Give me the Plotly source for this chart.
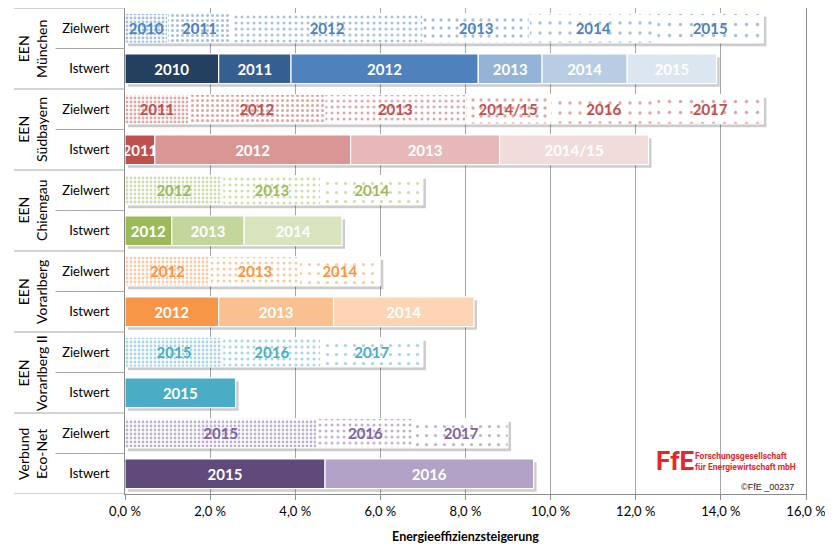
import numpy as np
import plotly.graph_objects as go

# ---------------- data ----------------
group_labels = ["EEN<br>München", "EEN<br>Südbayern", "EEN<br>Chiemgau",
                "EEN<br>Vorarlberg", "EEN<br>Vorarlberg II", "Verbund<br>Eco-Net"]
row_kinds = ["Zielwert", "Istwert"]

muenchen_ziel_years = ["2010", "2011", "2012", "2013", "2014", "2015"]
muenchen_ziel_values = [1.0, 1.5, 4.5, 2.5, 3.0, 2.5]
muenchen_ist_years = ["2010", "2011", "2012", "2013", "2014", "2015"]
muenchen_ist_values = [2.2, 1.7, 4.4, 1.5, 2.0, 2.1]

suedbayern_ziel_years = ["2011", "2012", "2013", "2014/15", "2016", "2017"]
suedbayern_ziel_values = [1.5, 3.2, 3.3, 2.0, 2.5, 2.5]
suedbayern_ist_years = ["2011", "2012", "2013", "2014/15"]
suedbayern_ist_values = [0.7, 4.6, 3.5, 3.5]

chiemgau_ziel_years = ["2012", "2013", "2014"]
chiemgau_ziel_values = [2.3, 2.3, 2.4]
chiemgau_ist_years = ["2012", "2013", "2014"]
chiemgau_ist_values = [1.1, 1.7, 2.3]

vorarlberg_ziel_years = ["2012", "2013", "2014"]
vorarlberg_ziel_values = [2.0, 2.1, 1.9]
vorarlberg_ist_years = ["2012", "2013", "2014"]
vorarlberg_ist_values = [2.2, 2.7, 3.3]

vorarlberg2_ziel_years = ["2015", "2016", "2017"]
vorarlberg2_ziel_values = [2.3, 2.3, 2.4]
vorarlberg2_ist_years = ["2015"]
vorarlberg2_ist_values = [2.6]

ecomet_ziel_years = ["2015", "2016", "2017"]
ecomet_ziel_values = [4.5, 2.3, 2.2]
ecomet_ist_years = ["2015", "2016"]
ecomet_ist_values = [4.7, 4.9]

x_tick_values = [0, 2, 4, 6, 8, 10, 12, 14, 16]
x_tick_labels = ["0,0 %", "2,0 %", "4,0 %", "6,0 %", "8,0 %", "10,0 %", "12,0 %", "14,0 %", "16,0 %"]

# ---------------- styles ----------------
base_colors = ["#4F81BD", "#C0504D", "#9BBB59", "#F79646", "#4BACC6", "#8064A2"]
ist_colors = [
    ["#243F60", "#365F91", "#4F81BD", "#95B3D7", "#B8CCE4", "#DCE6F1"],
    ["#C0504D", "#D99694", "#E6B9B8", "#F2DCDB"],
    ["#9BBB59", "#C3D69B", "#D7E4BD"],
    ["#F79646", "#FAC090", "#FCD5B5"],
    ["#4BACC6"],
    ["#604A7B", "#B3A2C7"],
]
pattern_sizes = [4, 5, 6, 8, 10, 11]
pattern_solid = [0.42, 0.3, 0.2, 0.13, 0.09, 0.08]
pattern_sizes3 = [4, 6, 9]
pattern_solid3 = [0.38, 0.2, 0.1]

rows = [
    (muenchen_ziel_years, muenchen_ziel_values, muenchen_ist_years, muenchen_ist_values),
    (suedbayern_ziel_years, suedbayern_ziel_values, suedbayern_ist_years, suedbayern_ist_values),
    (chiemgau_ziel_years, chiemgau_ziel_values, chiemgau_ist_years, chiemgau_ist_values),
    (vorarlberg_ziel_years, vorarlberg_ziel_values, vorarlberg_ist_years, vorarlberg_ist_values),
    (vorarlberg2_ziel_years, vorarlberg2_ziel_values, vorarlberg2_ist_years, vorarlberg2_ist_values),
    (ecomet_ziel_years, ecomet_ziel_values, ecomet_ist_years, ecomet_ist_values),
]

FONT = "Lato, 'Open Sans', sans-serif"
LOGO_FONT = "Roboto, 'Liberation Sans', sans-serif"
BAR_W = 0.73
fig = go.Figure()

tickvals, ticktext = [], []
for g, (zy, zv, iy, iv) in enumerate(rows):
    yz, yi = 2 * g, 2 * g + 1
    tickvals += [yz, yi]
    ticktext += row_kinds
    for yy, vals in ((yz, zv), (yi, iv)):
        # drop shadow
        fig.add_trace(go.Bar(
            y=[yy], x=[float(np.sum(vals))], base=[0.07], orientation="h",
            width=BAR_W, offset=-BAR_W / 2 + 0.08,
            marker=dict(color="rgba(0,0,0,0.2)", line=dict(width=0)),
            hoverinfo="skip", showlegend=False))
    # Zielwert (patterned)
    starts = np.concatenate([[0], np.cumsum(zv)[:-1]])
    n = len(zv)
    sizes = pattern_sizes[:n] if n > 3 else pattern_sizes3
    sol = pattern_solid[:n] if n > 3 else pattern_solid3
    fig.add_trace(go.Bar(
        y=[yz] * n, x=zv, base=starts, orientation="h", width=BAR_W,
        text=zy, textposition="inside", insidetextanchor="middle",
        textangle=0, constraintext="none",
        textfont=dict(family=FONT, size=15, color=base_colors[g], weight="bold"),
        marker=dict(color="white", line=dict(color="rgba(255,255,255,0.9)", width=1),
                    pattern=dict(shape=".", fgcolor=base_colors[g], bgcolor="white",
                                 size=sizes, solidity=sol)),
        showlegend=False))
    # Istwert (solid)
    starts = np.concatenate([[0], np.cumsum(iv)[:-1]])
    n = len(iv)
    fig.add_trace(go.Bar(
        y=[yi] * n, x=iv, base=starts, orientation="h", width=BAR_W,
        text=iy, textposition="inside", insidetextanchor="middle",
        textangle=0, constraintext="none",
        textfont=dict(family=FONT, size=15, color="white", weight="bold"),
        marker=dict(color=ist_colors[g][:n], line=dict(color="white", width=1.2)),
        showlegend=False))

# group labels and separator lines on the left
shapes = []
annotations = []
for g, lab in enumerate(group_labels):
    annotations.append(dict(
        x=-0.136, xref="paper", y=2 * g + 0.5, yref="y", text=lab,
        xanchor="center", yanchor="middle",
        textangle=-90, showarrow=False, align="center",
        font=dict(family=FONT, size=14, color="black")))
    shapes.append(dict(type="line", xref="paper", yref="y", x0=-0.102, x1=0,
                       y0=2 * g + 0.5, y1=2 * g + 0.5,
                       line=dict(color="#A6A6A6", width=1)))
for k in range(len(group_labels) + 1):
    shapes.append(dict(type="line", xref="paper", yref="y", x0=-0.163, x1=0,
                       y0=2 * k - 0.5, y1=2 * k - 0.5,
                       line=dict(color="#A6A6A6", width=1)))

# logo
annotations += [
    dict(x=0.777, y=0.068, xref="paper", yref="paper", xanchor="left", yanchor="middle",
         text="<b>FfE</b>", showarrow=False,
         font=dict(family=LOGO_FONT, size=26, color="#E3272B")),
    dict(x=0.834, y=0.079, xref="paper", yref="paper", xanchor="left", yanchor="middle",
         text="<b>Forschungsgesellschaft</b>", showarrow=False,
         font=dict(family=LOGO_FONT, size=8.5, color="#E3272B")),
    dict(x=0.834, y=0.056, xref="paper", yref="paper", xanchor="left", yanchor="middle",
         text="<b>für Energiewirtschaft mbH</b>", showarrow=False,
         font=dict(family=LOGO_FONT, size=8.5, color="#E3272B")),
    dict(x=0.943, y=0.015, xref="paper", yref="paper", xanchor="center", yanchor="middle",
         text="©FfE _00237", showarrow=False,
         font=dict(family="'Liberation Sans', Arial, sans-serif", size=9, color="#222222")),
]

# the page body has an 8 px margin, so the figure is sized to fit the window
fig.update_layout(
    width=825, height=536,
    margin=dict(l=117, r=27, t=0, b=50, autoexpand=False),
    paper_bgcolor="white", plot_bgcolor="white",
    barmode="overlay",
    font=dict(family=FONT, size=13, color="black"),
    shapes=shapes, annotations=annotations,
    xaxis=dict(range=[0, 16], tickvals=x_tick_values, ticktext=x_tick_labels,
               automargin=False,
               showgrid=True, gridcolor="#A6A6A6", gridwidth=1,
               showline=True, linecolor="#8C8C8C", linewidth=1, mirror=True,
               ticks="outside", ticklen=5, tickcolor="#8C8C8C",
               tickfont=dict(family=FONT, size=13, color="black"),
               zeroline=False,
               title=dict(text="<b>Energieeffizienzsteigerung</b>", standoff=15,
                          font=dict(family=FONT, size=12.5, color="black"))),
    yaxis=dict(range=[11.5, -0.5], tickvals=tickvals, ticktext=ticktext,
               automargin=False,
               showgrid=False, zeroline=False,
               showline=True, linecolor="#8C8C8C", linewidth=1, mirror=True,
               ticks="", ticklabelstandoff=12,
               tickfont=dict(family=FONT, size=13, color="black")),
)

fig.write_html("out.html")
